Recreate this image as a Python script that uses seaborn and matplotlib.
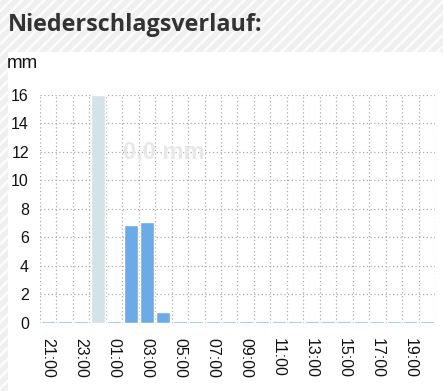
import seaborn as sns
import matplotlib.pyplot as plt
import matplotlib.patches as mpatches
import pandas as pd

hours = ["21:00", "22:00", "23:00", "00:00", "01:00", "02:00", "03:00", "04:00",
         "05:00", "06:00", "07:00", "08:00", "09:00", "10:00", "11:00", "12:00",
         "13:00", "14:00", "15:00", "16:00", "17:00", "18:00", "19:00", "20:00"]
rain_mm = [0.12, 0.12, 0.12, 16.0, 0.12, 6.85, 7.05, 0.75,
           0.12, 0.12, 0.12, 0.12, 0.12, 0.12, 0.12, 0.12,
           0.12, 0.12, 0.12, 0.12, 0.12, 0.12, 0.12, 0.12]
highlight_hour = "00:00"

df = pd.DataFrame({"hour": hours, "mm": rain_mm})
bar_colors = {h: ("#d3e3e6" if h == highlight_hour else "#6aabe8") for h in hours}

sns.set_style("white")
plt.rcParams['font.family'] = ['Liberation Sans', 'DejaVu Sans']
plt.rcParams['hatch.color'] = '#fbfbfb'
plt.rcParams['hatch.linewidth'] = 2.0

W, H = 443, 391
fig = plt.figure(figsize=(W / 100, H / 100), dpi=100)

# hatched page background + white card
bg = mpatches.Rectangle((0, 0), 1, 1, transform=fig.transFigure,
                        facecolor="#efefef", edgecolor="#fbfbfb", hatch="///",
                        linewidth=0, zorder=-10)
card = mpatches.Rectangle((8 / W, 0), 1, 1 - 52 / H, transform=fig.transFigure,
                          facecolor="white", edgecolor="none", zorder=-9)
fig.patches.extend([bg, card])

fig.text(8 / W, 1 - 25 / H, "Niederschlagsverlauf:", fontsize=16.8,
         fontweight="bold", color="#333333", va="center", ha="left",
         family=["Open Sans", "DejaVu Sans"])
fig.text(7 / W, 1 - 64 / H, "mm", fontsize=13.5, color="#111111",
         va="center", ha="left")

ax = fig.add_axes([40 / W, 1 - 322.7 / H, 395 / W, (322.7 - 95) / H])
ax.set_facecolor("none")
sns.barplot(data=df, x="hour", y="mm", hue="hour", palette=bar_colors,
            legend=False, width=0.85, saturation=1, ax=ax, zorder=3)

ax.set_xlim(-0.5, len(hours) - 0.5)
ax.set_ylim(0, 16)
ax.set_yticks(range(0, 17, 2))
ax.set_xticks(range(0, len(hours), 2))
ax.set_xticklabels(hours[::2], rotation=270, va="top", ha="center")
ax.set_xticks([i - 0.5 for i in range(len(hours) + 1)], minor=True)
ax.tick_params(axis="both", which="both", length=0, labelsize=11.5,
               colors="#111111")
ax.tick_params(axis="x", pad=11)
ax.tick_params(axis="y", pad=8)
ax.grid(False)
ax.grid(True, axis="y", which="major", linestyle=(0, (1, 2)),
        color="#aaaaaa", linewidth=0.9, zorder=0)
ax.grid(True, axis="x", which="minor", linestyle=(0, (1, 2)),
        color="#aaaaaa", linewidth=0.9, zorder=0)
for s in ax.spines.values():
    s.set_visible(False)
ax.set_xlabel("")
ax.set_ylabel("")

ax.text(7, 12, "0,0 mm", fontsize=17, fontweight="bold", color="#e8e8e8",
        ha="center", va="center", zorder=2)

plt.savefig("out.png", dpi=100)
